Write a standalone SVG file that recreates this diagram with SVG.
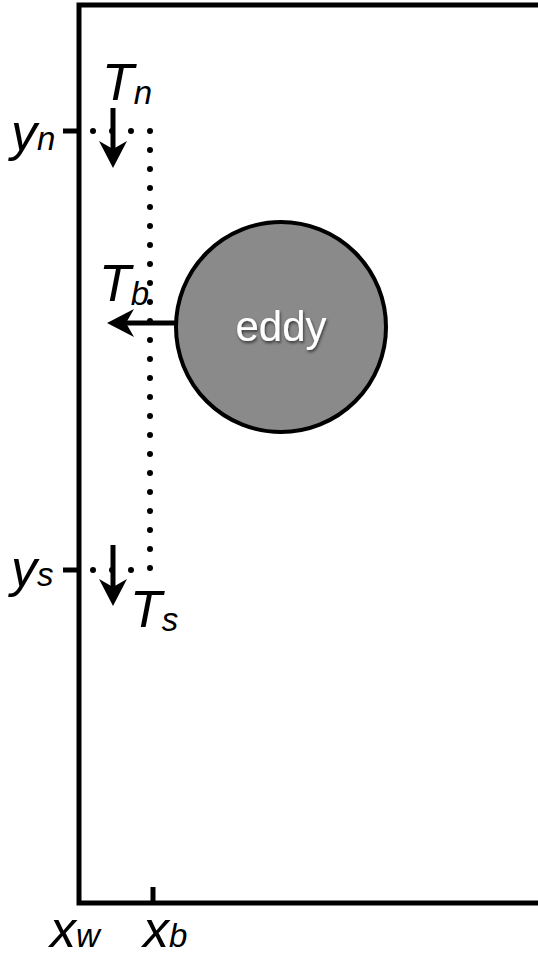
<svg xmlns="http://www.w3.org/2000/svg" width="538" height="961" viewBox="0 0 538 961">
<defs>
<style>
.ax{stroke:#000;stroke-width:5;fill:none}
.dot{stroke:#000;stroke-width:6;stroke-linecap:round;stroke-dasharray:0 19;fill:none}
.lbl{font-family:"Liberation Sans",Arial,sans-serif;font-style:italic;fill:#000}
.big{font-size:52px}
.sub{font-size:33px}
.arr{stroke:#000;stroke-width:5;fill:none}
.head{fill:#000}
</style>
<filter id="sh" x="-20%" y="-20%" width="140%" height="140%">
<feDropShadow dx="1" dy="2" stdDeviation="1.5" flood-color="#000" flood-opacity="0.6"/>
</filter>
</defs>
<g id="frame">
<path class="ax" d="M540 5 H79 V903 H540"/>
<line class="ax" x1="63" y1="131" x2="79" y2="131"/>
<line class="ax" x1="63" y1="570" x2="79" y2="570"/>
<line class="ax" x1="153" y1="887" x2="153" y2="903"/>
</g>
<g id="connectors">
<path class="dot" d="M93 131 H150 V570 M93 570 H150"/>
<line class="arr" x1="113" y1="108" x2="113" y2="150"/>
<path class="head" d="M113 168 L99 141 L113 149 L127 141 Z"/>
<line class="arr" x1="113" y1="545" x2="113" y2="588"/>
<path class="head" d="M113 606 L99 579 L113 587 L127 579 Z"/>
<line class="arr" x1="176" y1="323" x2="125" y2="323"/>
<path class="head" d="M107 323 L134 309 L126 323 L134 337 Z"/>
</g>
<g id="eddy">
<circle cx="281" cy="327" r="105" fill="#8a8a8a" stroke="#000" stroke-width="4"/>
<text x="281" y="341" text-anchor="middle" font-family="Liberation Sans,Arial,sans-serif" font-size="42" fill="#fff" filter="url(#sh)">eddy</text>
</g>
<g id="labels">
<text class="lbl" x="102" y="100"><tspan class="big">T</tspan><tspan class="sub" dy="4">n</tspan></text>
<text class="lbl" x="99" y="301"><tspan class="big">T</tspan><tspan class="sub" dy="4">b</tspan></text>
<text class="lbl" x="130" y="627"><tspan class="big">T</tspan><tspan class="sub" dy="4">s</tspan></text>
<text class="lbl" x="11" y="150"><tspan class="big">y</tspan><tspan class="sub">n</tspan></text>
<text class="lbl" x="11" y="586"><tspan class="big">y</tspan><tspan class="sub">s</tspan></text>
<text class="lbl" x="50" y="947"><tspan class="big">x</tspan><tspan class="sub">w</tspan></text>
<text class="lbl" x="143" y="947"><tspan class="big">x</tspan><tspan class="sub">b</tspan></text>
</g>
</svg>
